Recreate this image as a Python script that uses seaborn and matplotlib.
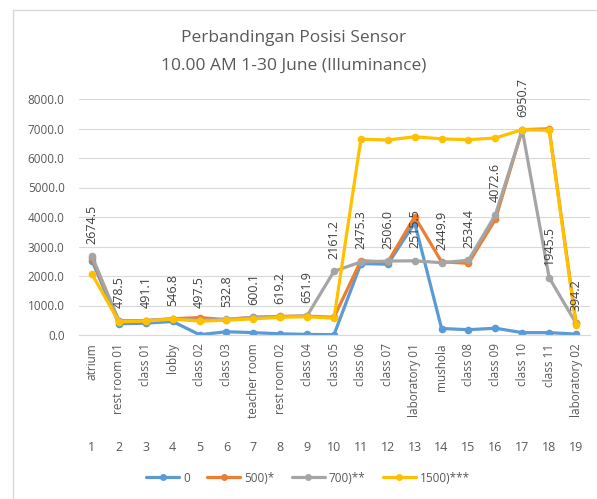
import matplotlib
matplotlib.use("Agg")
import matplotlib.pyplot as plt
from matplotlib.lines import Line2D
import seaborn as sns
import pandas as pd

# data
rooms = ["atrium", "rest room 01", "class 01", "lobby", "class 02", "class 03",
         "teacher room", "rest room 02", "class 04", "class 05", "class 06",
         "class 07", "laboratory 01", "mushola", "class 08", "class 09",
         "class 10", "class 11", "laboratory 02"]
series_names = ["0", "500)*", "700)**", "1500)***"]
lux_0 = [2520, 380, 400, 460, 10, 110, 80, 40, 20, 10, 2420, 2400, 3800,
         220, 180, 230, 80, 80, 30]
lux_500 = [2600, 480, 490, 550, 590, 520, 600, 630, 640, 600, 2520, 2470,
           4010, 2480, 2430, 3920, 6960, 6990, 400]
lux_700 = [2674.5, 478.5, 491.1, 546.8, 497.5, 532.8, 600.1, 619.2, 651.9,
           2161.2, 2475.3, 2506.0, 2515.5, 2449.9, 2534.4, 4072.6, 6950.7,
           1945.5, 394.2]
lux_1500 = [2070, 450, 470, 540, 470, 500, 550, 600, 620, 570, 6640, 6610,
            6720, 6650, 6620, 6680, 6960, 6940, 330]
colors = ["#5B9BD5", "#ED7D31", "#A5A5A5", "#FFC000"]

pos = list(range(1, len(rooms) + 1))
df = pd.DataFrame({
    "pos": pos * 4,
    "value": lux_0 + lux_500 + lux_700 + lux_1500,
    "series": [s for s in series_names for _ in pos],
})

sns.set_style("white")
plt.rcParams["font.family"] = ["Open Sans", "DejaVu Sans"]

W, H = 597, 499
fig = plt.figure(figsize=(W / 100, H / 100), dpi=100)
ax = fig.add_axes([78.5 / W, 1 - 335 / H, 511 / W, 236 / H])

sns.lineplot(data=df, x="pos", y="value", hue="series", palette=colors,
             hue_order=series_names, marker="o", markersize=5.5,
             markeredgewidth=0, linewidth=2.3, sort=False, legend=False, ax=ax)

# data labels for the 700 series
for x, v in zip(pos, lux_700):
    ax.annotate(f"{v:.1f}", (x, v), xytext=(0, 9), textcoords="offset points",
                rotation=90, ha="center", va="bottom", fontsize=9,
                color="#404040")

ax.set_xlim(0.5, len(rooms) + 0.5)
ax.set_ylim(0, 8000)
ax.set_yticks(range(0, 8001, 1000))
ax.set_yticklabels([f"{v:.1f}" for v in range(0, 8001, 1000)])
ax.tick_params(axis="y", length=0, pad=10, labelsize=8.5, labelcolor="#595959")
ax.grid(axis="y", color="#D9D9D9", linewidth=0.8)
ax.set_axisbelow(True)

ax.set_xticks(pos)
ax.set_xticklabels(rooms, rotation=90, va="top")
ax.set_xticks([p + 0.5 for p in [0] + pos], minor=True)
ax.tick_params(axis="x", which="major", length=0, pad=6, labelsize=8.5,
               labelcolor="#595959")
ax.tick_params(axis="x", which="minor", length=88, width=0.8,
               color="#D9D9D9", direction="out")
for p in pos:
    ax.text(p, -0.475, str(p), transform=ax.get_xaxis_transform(),
            ha="center", va="center", fontsize=9, color="#595959")

ax.set_xlabel("")
ax.set_ylabel("")
for side in ["left", "right", "top"]:
    ax.spines[side].set_visible(False)
ax.spines["bottom"].set_color("#D9D9D9")
ax.spines["bottom"].set_linewidth(0.8)

fig.text(294 / W, 1 - 38 / H, "Perbandingan Posisi Sensor", ha="center",
         va="center", fontsize=12.5, color="#595959")
fig.text(294 / W, 1 - 66 / H, "10.00 AM 1-30 June (Illuminance)", ha="center",
         va="center", fontsize=12.5, color="#595959")

handles = [Line2D([], [], color=c, marker="o", markersize=5, linewidth=2.3,
                  markeredgewidth=0) for c in colors]
fig.legend(handles, series_names, loc="center", ncol=4, frameon=False,
           bbox_to_anchor=(308 / W, 1 - 478 / H), fontsize=8.5,
           labelcolor="#595959", handlelength=2.8, handletextpad=0.3,
           columnspacing=1.5)

# chart border
fig.add_artist(Line2D([13 / W, 1], [1 - 10 / H] * 2, color="#D9D9D9",
                      linewidth=1, transform=fig.transFigure))
fig.add_artist(Line2D([13 / W] * 2, [1 - 10 / H, 0], color="#D9D9D9",
                      linewidth=1, transform=fig.transFigure))

fig.savefig("out.png", dpi=100)
